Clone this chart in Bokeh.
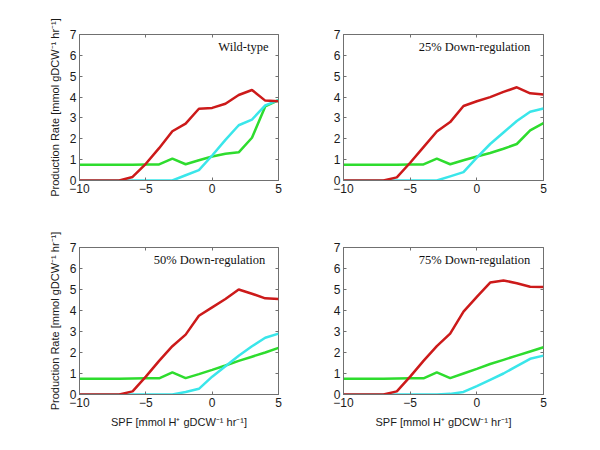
from bokeh.plotting import figure
from bokeh.layouts import column, row
from bokeh.models import Range1d, LinearAxis, Label, FixedTicker, CustomLabelingPolicy
from bokeh.embed import file_html
from bokeh.resources import INLINE

spf = list(range(-10, 6))

titles = ["Wild-type", "25% Down-regulation", "50% Down-regulation", "75% Down-regulation"]

red_wt = [0, 0, 0, 0, 0.17, 0.8, 1.55, 2.36, 2.73, 3.44, 3.48, 3.68, 4.1, 4.34, 3.83, 3.8]
green_wt = [0.75, 0.75, 0.75, 0.75, 0.76, 0.77, 0.77, 1.05, 0.78, 0.97, 1.15, 1.28, 1.35, 2.05, 3.55, 3.85]
cyan_wt = [0, 0, 0, 0, 0, 0, 0, 0, 0.25, 0.5, 1.2, 1.95, 2.65, 2.92, 3.6, 3.85]

red_25 = [0, 0, 0, 0, 0.15, 0.85, 1.6, 2.35, 2.8, 3.57, 3.8, 4.0, 4.25, 4.47, 4.18, 4.12]
green_25 = [0.75, 0.75, 0.75, 0.75, 0.76, 0.77, 0.77, 1.05, 0.78, 0.97, 1.15, 1.32, 1.52, 1.75, 2.4, 2.75]
cyan_25 = [0, 0, 0, 0, 0, 0, 0, 0, 0.2, 0.4, 1.1, 1.75, 2.3, 2.85, 3.3, 3.45]

red_50 = [0, 0, 0, 0, 0.15, 0.85, 1.6, 2.3, 2.85, 3.75, 4.15, 4.55, 5.0, 4.8, 4.58, 4.55]
green_50 = [0.75, 0.75, 0.75, 0.75, 0.76, 0.77, 0.77, 1.05, 0.78, 0.97, 1.17, 1.38, 1.6, 1.8, 2.0, 2.22]
cyan_50 = [0, 0, 0, 0, 0, 0, 0, 0, 0.12, 0.27, 0.85, 1.35, 1.85, 2.3, 2.7, 2.9]

red_75 = [0, 0, 0, 0, 0.15, 0.85, 1.6, 2.3, 2.9, 3.95, 4.65, 5.33, 5.43, 5.3, 5.13, 5.12]
green_75 = [0.75, 0.75, 0.75, 0.75, 0.76, 0.77, 0.77, 1.05, 0.78, 1.0, 1.22, 1.45, 1.65, 1.85, 2.05, 2.25]
cyan_75 = [0, 0, 0, 0, 0, 0, 0, 0, 0.03, 0.12, 0.4, 0.7, 1.0, 1.35, 1.7, 1.85]

series = [
    (red_wt, green_wt, cyan_wt),
    (red_25, green_25, cyan_25),
    (red_50, green_50, cyan_50),
    (red_75, green_75, cyan_75),
]

x_ticks = [-10, -5, 0, 5]
y_ticks = [0, 1, 2, 3, 4, 5, 6, 7]

RED = "#cc1a1a"
GREEN = "#2edc2e"
CYAN = "#3ae6ea"
AXIS = "#707070"

YLABEL = "Production Rate [mmol gDCW\u207b\u00b9 hr\u207b\u00b9]"
XLABEL = "SPF [mmol H\u207a gDCW\u207b\u00b9 hr\u207b\u00b9]"

title_x = [4.25, 4.0, 4.0, 4.0]

# (width, height, left, right, top, bottom)
geo = [
    (300, 200, 79, 22, 34, 20),
    (290, 200, 43, 47, 34, 20),
    (300, 234, 79, 22, 47, 40),
    (290, 234, 43, 47, 47, 40),
]

no_labels = CustomLabelingPolicy(code="""
    for (const i of Array.from(indices)) {
        indices.unset(i)
    }
    return indices
""")


def make(i):
    w, h, bl, br, bt, bb = geo[i]
    p = figure(width=w, height=h, output_backend="svg", toolbar_location=None,
               x_range=Range1d(-10, 5), y_range=Range1d(0, 7), x_axis_location=None,
               y_axis_location=None,
               min_border_left=bl, min_border_right=br, min_border_top=bt, min_border_bottom=bb)
    p.background_fill_color = "white"
    p.border_fill_color = "white"
    p.outline_line_color = AXIS
    p.outline_line_width = 1
    p.xgrid.visible = False
    p.ygrid.visible = False
    r, g, c = series[i]
    p.line(spf, g, color=GREEN, line_width=2.5)
    p.line(spf, c, color=CYAN, line_width=2.5)
    p.line(spf, r, color=RED, line_width=2.5)

    common = dict(major_tick_in=3, major_tick_out=0, minor_tick_in=0, minor_tick_out=0,
                  axis_line_color=AXIS, major_tick_line_color=AXIS,
                  major_label_text_font="Liberation Sans",
                  major_label_text_font_size="12px", major_label_text_color="#1a1a1a",
                  major_label_standoff=3,
                  axis_label_text_font="Liberation Sans", axis_label_text_font_size="11px",
                  axis_label_text_font_style="normal", axis_label_text_color="#1a1a1a")
    xa = LinearAxis(ticker=FixedTicker(ticks=x_ticks), **common)
    ya = LinearAxis(ticker=FixedTicker(ticks=y_ticks), **common)
    if i in (0, 2):
        ya.axis_label = YLABEL
        ya.axis_label_standoff = 6
    if i in (2, 3):
        xa.axis_label = XLABEL
        xa.axis_label_standoff = 6
    p.add_layout(xa, "below")
    p.add_layout(ya, "left")

    # mirrored ticks
    ra = LinearAxis(ticker=FixedTicker(ticks=y_ticks), major_tick_in=3, major_tick_out=0,
                    minor_tick_in=0, minor_tick_out=0, major_label_policy=no_labels,
                    major_tick_line_color=AXIS,
                    major_label_standoff=0, axis_line_color=None)
    ta = LinearAxis(ticker=FixedTicker(ticks=x_ticks), major_tick_in=3, major_tick_out=0,
                    minor_tick_in=0, minor_tick_out=0, major_label_policy=no_labels,
                    major_tick_line_color=AXIS,
                    major_label_standoff=0, axis_line_color=None)
    p.add_layout(ra, "right")
    p.add_layout(ta, "above")

    p.add_layout(Label(x=title_x[i], y=6.42, text=titles[i], text_align="right",
                       text_baseline="middle", text_font="Liberation Serif",
                       text_font_style="normal",
                       text_font_size="12.5px", text_color="#111111"))
    return p


plots = [make(i) for i in range(4)]
layout = column(row(plots[0], plots[1]), row(plots[2], plots[3]))

open("out.html", "w").write(file_html(layout, INLINE))
